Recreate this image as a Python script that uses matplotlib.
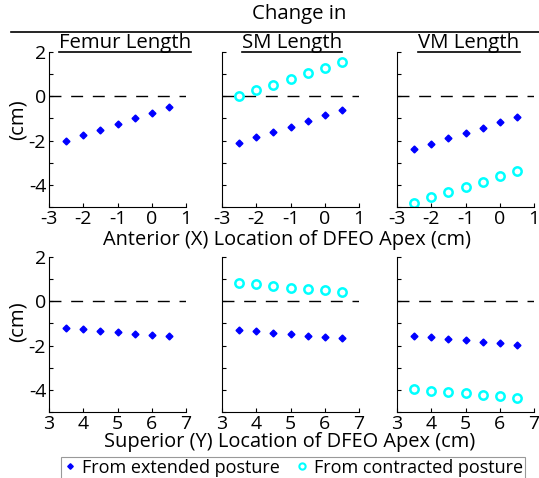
import matplotlib.pyplot as plt
import matplotlib.lines as mlines
import numpy as np

plt.rcParams['font.family'] = ['Open Sans', 'DejaVu Sans']
plt.rcParams['axes.unicode_minus'] = False

# apex locations
x_ant = [-2.5, -2.0, -1.5, -1.0, -0.5, 0.0, 0.5]
x_sup = [3.5, 4.0, 4.5, 5.0, 5.5, 6.0, 6.5]

titles = ['Femur Length', 'SM Length', 'VM Length']

# change in length (cm), anterior row
ant_ext = {
    'Femur': [-2.0, -1.75, -1.5, -1.26, -1.0, -0.76, -0.5],
    'SM': [-2.12, -1.86, -1.62, -1.37, -1.11, -0.86, -0.62],
    'VM': [-2.39, -2.14, -1.89, -1.65, -1.41, -1.17, -0.93],
}
ant_con = {
    'Femur': None,
    'SM': [0.0, 0.27, 0.52, 0.78, 1.03, 1.28, 1.53],
    'VM': [-4.80, -4.57, -4.33, -4.09, -3.85, -3.61, -3.37],
}
# superior row
sup_ext = {
    'Femur': [-1.2, -1.26, -1.33, -1.39, -1.47, -1.53, -1.59],
    'SM': [-1.29, -1.36, -1.42, -1.48, -1.56, -1.61, -1.67],
    'VM': [-1.57, -1.63, -1.69, -1.76, -1.82, -1.88, -1.97],
}
sup_con = {
    'Femur': None,
    'SM': [0.81, 0.76, 0.68, 0.61, 0.55, 0.49, 0.43],
    'VM': [-3.97, -4.03, -4.09, -4.15, -4.22, -4.28, -4.36],
}

W, H = 539, 478
fig = plt.figure(figsize=(W / 100, H / 100), dpi=100)


def px_axes(left, top, width, height):
    return fig.add_axes([left / W, 1 - (top + height) / H, width / W, height / H])


lefts = [49, 222, 397]
keys = ['Femur', 'SM', 'VM']
rows = [(52, x_ant, ant_ext, ant_con, [-3, -2, -1, 0, 1], (-3, 1)),
        (257, x_sup, sup_ext, sup_con, [3, 4, 5, 6, 7], (3, 7))]

for r, (top, xs, ext, con, xt, xl) in enumerate(rows):
    for c, key in enumerate(keys):
        ax = px_axes(lefts[c], top, 137, 155)
        ax.plot(xl, [0, 0], color='black', lw=1, dashes=(8.6, 7))
        ax.plot(xs, ext[key], ls='none', marker='D', ms=3.5, color='blue')
        if con[key] is not None:
            ax.plot(xs, con[key], ls='none', marker='o', ms=6, mfc='none',
                    mec='cyan', mew=1.8)
        ax.set_xlim(*xl)
        ax.set_ylim(-5, 2)
        ax.set_xticks(xt)
        ax.set_yticks(range(-5, 3))
        if c == 0:
            ax.set_yticklabels(['', '-4', '', '-2', '', '0', '', '2'])
        else:
            ax.set_yticklabels([])
        for s in ['top', 'right']:
            ax.spines[s].set_visible(False)
        ax.tick_params(direction='in', length=3, labelsize=14, pad=2)


def underlined(x, y, s, size):
    t = fig.text(x / W, 1 - y / H, s, ha='center', va='center', fontsize=size)
    return t


title_pos = [(125, 43), (292, 43), (469, 43)]
title_texts = [underlined(px, py, s, 14.7) for (px, py), s in zip(title_pos, titles)]

fig.text(299 / W, 1 - 14 / H, 'Change in', ha='center', va='center', fontsize=14.7)
fig.add_artist(mlines.Line2D([11 / W, 1.0], [1 - 32 / H, 1 - 32 / H], color='black', lw=1.2))

fig.text(287 / W, 1 - 240 / H, 'Anterior (X) Location of DFEO Apex (cm)',
         ha='center', va='center', fontsize=14.4)
fig.text(290 / W, 1 - 442 / H, 'Superior (Y) Location of DFEO Apex (cm)',
         ha='center', va='center', fontsize=14.4)
fig.text(18 / W, 1 - 120 / H, '(cm)', ha='center', va='center', rotation=90, fontsize=14.7)
fig.text(18 / W, 1 - 322 / H, '(cm)', ha='center', va='center', rotation=90, fontsize=14.7)

# underline the subplot titles
fig.canvas.draw()
r = fig.canvas.get_renderer()
for t in title_texts:
    bb = t.get_window_extent(r)
    yline = bb.y0 + 1
    fig.add_artist(mlines.Line2D([bb.x0 / W, bb.x1 / W], [yline / H, yline / H],
                                 color='black', lw=1.2))

h1 = mlines.Line2D([], [], ls='none', marker='D', ms=2.8, color='blue')
h2 = mlines.Line2D([], [], ls='none', marker='o', ms=4.5, mfc='none', mec='cyan', mew=1.5)
leg = fig.legend([h1, h2], ['From extended posture', 'From contracted posture'],
                 ncol=2, loc='lower center', bbox_to_anchor=(293 / W, -0.005),
                 fontsize=13, frameon=True, fancybox=False, edgecolor='gray',
                 handlelength=0.8, handletextpad=0.3, columnspacing=0.8,
                 borderpad=0.1, borderaxespad=0.1)
leg.get_frame().set_linewidth(0.8)

fig.savefig('out.png', dpi=100)
